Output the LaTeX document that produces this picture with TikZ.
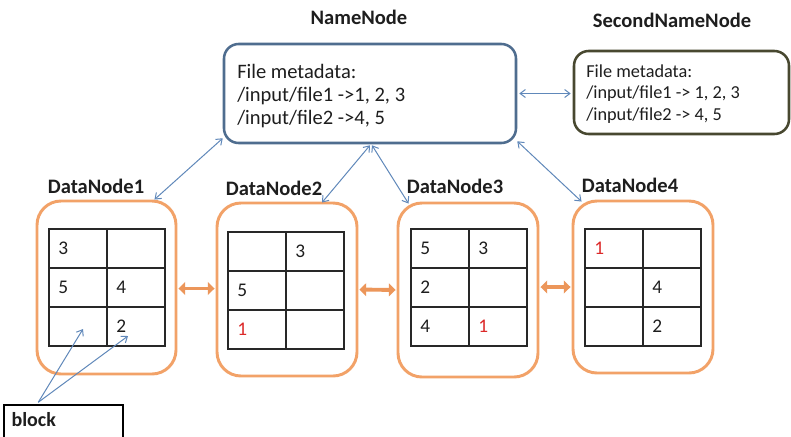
\documentclass[tikz,border=0pt]{standalone}
\usepackage{fontspec}
\setmainfont{Carlito}
\usetikzlibrary{arrows.meta,fit,calc}
\definecolor{nnblue}{RGB}{79,109,143}
\definecolor{snnolive}{RGB}{72,72,48}
\definecolor{dnorange}{RGB}{242,162,104}
\definecolor{arrorange}{RGB}{236,150,90}
\definecolor{linkblue}{RGB}{96,136,186}
\definecolor{txt}{RGB}{30,30,30}
\definecolor{redtxt}{RGB}{220,40,40}
\definecolor{gridc}{RGB}{40,40,40}
\newcommand\cellnode[7]{\node[celltxt,text=#7] (#1) at ({#2+9+58*#4},{#3+19.5+39*#5}) {#6};}
\newcommand\dgrid[2]{%
  \draw[gridline] (#1,#2) rectangle ++(116,117);
  \draw[gridline] ({#1+58},#2) -- ++(0,117);
  \draw[gridline] (#1,{#2+39}) -- ++(116,0);
  \draw[gridline] (#1,{#2+78}) -- ++(116,0);}
\begin{document}
\begin{tikzpicture}[x=0.75pt,y=-0.75pt,
  every node/.style={text=txt},
  titletxt/.style={font=\fontsize{15.4}{18}\selectfont\bfseries},
  nnbox/.style={draw=nnblue, line width=1.9pt, rounded corners=11pt, inner sep=0pt},
  snnbox/.style={draw=snnolive, line width=1.9pt, rounded corners=11pt, inner sep=0pt},
  dnbox/.style={draw=dnorange, line width=2.2pt, rounded corners=18pt, inner sep=0pt},
  gridline/.style={draw=gridc, line width=1.1pt},
  celltxt/.style={anchor=west, inner sep=0pt, font=\fontsize{14.5}{16}\selectfont},
  metatxt/.style={anchor=west, align=left, inner sep=0pt},
  link/.style={draw=linkblue, line width=0.75pt, {Straight Barb[length=4pt,width=6pt]}-{Straight Barb[length=4pt,width=6pt]}},
  linkone/.style={draw=linkblue, line width=0.75pt, -{Straight Barb[length=4pt,width=6pt]}},
  orangearr/.style={draw=arrorange, line width=2.9pt, {Triangle[length=5pt,width=9.5pt]}-{Triangle[length=5pt,width=9.5pt]}},
  blockbox/.style={draw=black, line width=1.1pt, inner sep=0pt}
]
\useasboundingbox[fill=white] (0,0) rectangle (791,436);

% NameNode
\node[titletxt] (nntitle) at (359,17) {NameNode};
\node[nnbox, fit={(224,44) (516,143)}] (nn) {};
\node[metatxt, font=\fontsize{15.4}{17.6}\selectfont] (nntext) at (237,96) {File metadata:\\/input/file1 ->1, 2, 3\\/input/file2 ->4, 5};

% SecondNameNode
\node[titletxt] (snntitle) at (672,20) {SecondNameNode};
\node[snnbox, fit={(574,51) (789,134)}] (snn) {};
\node[metatxt, font=\fontsize{13.7}{16.1}\selectfont] (snntext) at (586,94) {File metadata:\\/input/file1 -> 1, 2, 3\\/input/file2 -> 4, 5};

% DataNodes
\node[titletxt] (dn1title) at (96,186) {DataNode1};
\node[titletxt] (dn2title) at (274,188) {DataNode2};
\node[titletxt] (dn3title) at (455,186) {DataNode3};
\node[titletxt] (dn4title) at (630,185) {DataNode4};
\node[dnbox, fit={(37,201) (176,374)}] (dn1) {};
\node[dnbox, fit={(217,203) (357,376)}] (dn2) {};
\node[dnbox, fit={(398,203) (538,377)}] (dn3) {};
\node[dnbox, fit={(573,201) (713,373)}] (dn4) {};

% grids
\dgrid{49}{229}
\dgrid{228}{232}
\dgrid{411}{229}
\dgrid{585}{229}

% DN1
\cellnode{a11}{49}{229}{0}{0}{3}{txt}
\cellnode{a21}{49}{229}{0}{1}{5}{txt}
\cellnode{a22}{49}{229}{1}{1}{4}{txt}
\cellnode{a32}{49}{229}{1}{2}{2}{txt}
% DN2
\cellnode{b12}{228}{232}{1}{0}{3}{txt}
\cellnode{b21}{228}{232}{0}{1}{5}{txt}
\cellnode{b31}{228}{232}{0}{2}{1}{redtxt}
% DN3
\cellnode{c11}{411}{229}{0}{0}{5}{txt}
\cellnode{c12}{411}{229}{1}{0}{3}{txt}
\cellnode{c21}{411}{229}{0}{1}{2}{txt}
\cellnode{c31}{411}{229}{0}{2}{4}{txt}
\cellnode{c32}{411}{229}{1}{2}{1}{redtxt}
% DN4
\cellnode{d11}{585}{229}{0}{0}{1}{redtxt}
\cellnode{d22}{585}{229}{1}{1}{4}{txt}
\cellnode{d32}{585}{229}{1}{2}{2}{txt}

% orange arrows
\draw[orangearr] ($(dn1.east)+(1,1)$) -- ($(dn2.west)+(-1,-1)$);
\draw[orangearr] ($(dn2.east)+(1,0)$) -- ($(dn3.west)+(-1,0)$);
\draw[orangearr] ($(dn3.east)+(1,-3)$) -- ($(dn4.west)+(-1,0)$);

% blue links
\draw[link] ($(nn.east)+(2,0)$) -- ($(snn.west)+(-2,1)$);
\draw[link] ($(nn.south west)+(0,-6)$) -- ($(dn1.north east)+(-23,0)$);
\draw[link] ($(nn.south)+(0,1)$) -- ($(dn2.north)+(35,1)$);
\draw[link] ($(nn.south)+(2,1)$) -- ($(dn3.north west)+(12,2)$);
\draw[link] ($(nn.south east)+(0,-3)$) -- ($(dn4.north west)+(10,2)$);

% block
\node[blockbox, fit={(4,405) (123,446)}] (block) {};
\node[anchor=west, inner sep=0pt, font=\fontsize{15}{18}\selectfont\bfseries] (blocktxt) at ($(block.north west)+(8,15)$) {block};
\coordinate (blk1) at (83,329);
\coordinate (blk2) at (128,336);
\draw[linkone] ($(block.north west)+(35,-2)$) -- (blk1);
\draw[linkone] ($(block.north west)+(35,-2)$) -- (blk2);
\end{tikzpicture}
\end{document}
